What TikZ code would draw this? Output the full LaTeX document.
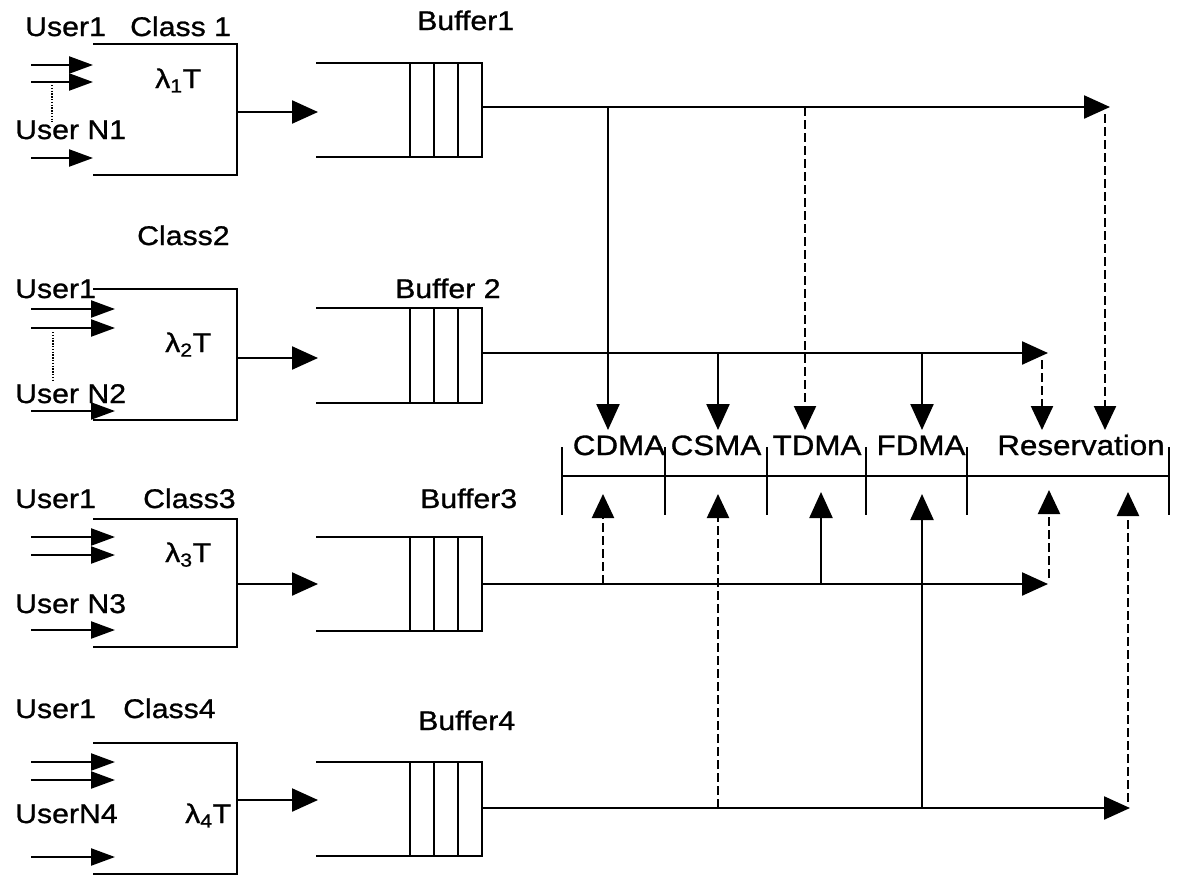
\documentclass[tikz,border=0pt]{standalone}
\usepackage{fontspec}
\setmainfont[FakeStretch=1.12,FakeBold=1]{Liberation Sans}
\usetikzlibrary{arrows.meta}
\tikzset{
  ln/.style={line width=2.3pt},
  arr/.style={ln,-{Triangle[length=26pt,width=23pt]}},
  iarr/.style={ln,-{Triangle[length=24pt,width=17pt]}},
  dsh/.style={line width=2.3pt, dash pattern=on 9pt off 4pt},
  darr/.style={dsh,-{Triangle[length=24pt,width=22pt]}},
  lbl/.style={anchor=base west, inner sep=0pt, font=\fontsize{27}{32}\selectfont},
  blbl/.style={anchor=base, inner sep=0pt, font=\fontsize{28}{33}\selectfont},
  dots/.style={line width=1.4pt, dash pattern=on 1.4pt off 1.4pt},
}
\begin{document}
\begin{tikzpicture}[x=1pt,y=-1pt]
\useasboundingbox (0,0) rectangle (1177,876);
% ---------- class boxes ----------
\foreach \i/\t/\b/\tip/\a/\c/\d/\o in {1/44/175/93/65/82/158/112, 2/289/420/115/309/328/411/358, 3/519/647/115/537/555/630/584, 4/743/874/115/762/780/857/800}{
  \coordinate (ct\i) at (93,\t);
  \coordinate (cb\i) at (93,\b);
  \draw[ln] (ct\i) -| (237,\b) -- (cb\i);
  \coordinate (ua\i) at (31,\a); \coordinate (uat\i) at (\tip,\a);
  \coordinate (ub\i) at (31,\c); \coordinate (ubt\i) at (\tip,\c);
  \coordinate (un\i) at (31,\d); \coordinate (unt\i) at (\tip,\d);
  \draw[iarr] (ua\i) -- (uat\i);
  \draw[iarr] (ub\i) -- (ubt\i);
  \draw[iarr] (un\i) -- (unt\i);
  \coordinate (co\i) at (237,\o); \coordinate (bi\i) at (318,\o);
  \draw[arr] (co\i) -- (bi\i);
}
\coordinate (d1a) at (52,85); \coordinate (d1b) at (52,122);
\draw[dots] (d1a) -- (d1b);
\coordinate (d2a) at (53,332); \coordinate (d2b) at (53,382);
\draw[dots] (d2a) -- (d2b);
% ---------- buffers ----------
\foreach \i/\t/\b/\o in {1/63/157/107, 2/308/403/353, 3/537/631/584, 4/762/856/808}{
  \draw[ln] (316,\t) -- (482,\t) -- (482,\b) -- (316,\b);
  \foreach \x in {410,434,458} \draw[ln] (\x,\t) -- (\x,\b);
  \coordinate (buf\i) at (482,\o);
}
% ---------- labels left ----------
\node[lbl] (u1a) at (25,36) {User1};
\node[lbl] (c1) at (130,36) {Class 1};
\node[lbl] (l1) at (155,88) {λ\textsubscript{1}T};
\node[lbl] (n1) at (15,139) {User N1};
\node[lbl] (c2) at (137,245) {Class2};
\node[lbl] (u2a) at (15,298) {User1};
\node[lbl] (l2) at (165,352) {λ\textsubscript{2}T};
\node[lbl] (n2) at (15,403) {User N2};
\node[lbl] (u3a) at (15,508) {User1};
\node[lbl] (c3) at (143,508) {Class3};
\node[lbl] (l3) at (165,562) {λ\textsubscript{3}T};
\node[lbl] (n3) at (15,613) {User N3};
\node[lbl] (u4a) at (15,718) {User1};
\node[lbl] (c4) at (123,718) {Class4};
\node[lbl] (n4) at (15,823) {UserN4};
\node[lbl] (l4) at (185,823) {λ\textsubscript{4}T};
\node[lbl] (b1) at (417,30) {Buffer1};
\node[lbl] (b2) at (395,298) {Buffer 2};
\node[lbl] (b3) at (420,508) {Buffer3};
\node[lbl] (b4) at (418,730) {Buffer4};
% ---------- access bar ----------
\coordinate (barL) at (562,476); \coordinate (barR) at (1170,476);
\draw[ln] (barL) -- (barR);
\foreach \x in {562,665,767,866,967,1169} \draw[ln] (\x,447) -- (\x,515);
\node[blbl] (cdma) at (619,455) {CDMA};
\node[blbl] (csma) at (716,455) {CSMA};
\node[blbl] (tdma) at (817,455) {TDMA};
\node[blbl] (fdma) at (921,455) {FDMA};
\node[blbl] (resv) at (1081,455) {Reservation};
% ---------- buffer 1 ----------
\coordinate (e1) at (1110,107);
\draw[arr] (buf1) -- (e1);
\coordinate (j1a) at (608,107); \coordinate (t1a) at (608,430);
\draw[arr] (j1a) -- (t1a);
\coordinate (j1b) at (805,107); \coordinate (t1b) at (805,430);
\draw[darr] (j1b) -- (t1b);
\coordinate (j1c) at (1105,114); \coordinate (t1c) at (1105,430);
\draw[darr] (j1c) -- (t1c);
% ---------- buffer 2 ----------
\coordinate (e2) at (1048,353);
\draw[arr] (buf2) -- (e2);
\coordinate (j2a) at (718,353); \coordinate (t2a) at (718,430);
\draw[arr] (j2a) -- (t2a);
\coordinate (j2b) at (922,353); \coordinate (t2b) at (922,430);
\draw[arr] (j2b) -- (t2b);
\coordinate (j2c) at (1042,360); \coordinate (t2c) at (1042,430);
\draw[darr] (j2c) -- (t2c);
% ---------- buffer 3 ----------
\coordinate (e3) at (1048,584);
\draw[arr] (buf3) -- (e3);
\coordinate (j3a) at (603,584); \coordinate (t3a) at (603,494);
\draw[darr] (j3a) -- (t3a);
\coordinate (j3b) at (821,584); \coordinate (t3b) at (821,492);
\draw[arr] (j3b) -- (t3b);
\coordinate (j3c) at (1049,578); \coordinate (t3c) at (1049,490);
\draw[darr] (j3c) -- (t3c);
% ---------- buffer 4 ----------
\coordinate (e4) at (1130,808);
\draw[arr] (buf4) -- (e4);
\coordinate (j4a) at (718,808); \coordinate (t4a) at (718,494);
\draw[darr] (j4a) -- (t4a);
\coordinate (j4b) at (922,808); \coordinate (t4b) at (922,494);
\draw[arr] (j4b) -- (t4b);
\coordinate (j4c) at (1128,802); \coordinate (t4c) at (1128,492);
\draw[darr] (j4c) -- (t4c);
\end{tikzpicture}
\end{document}
